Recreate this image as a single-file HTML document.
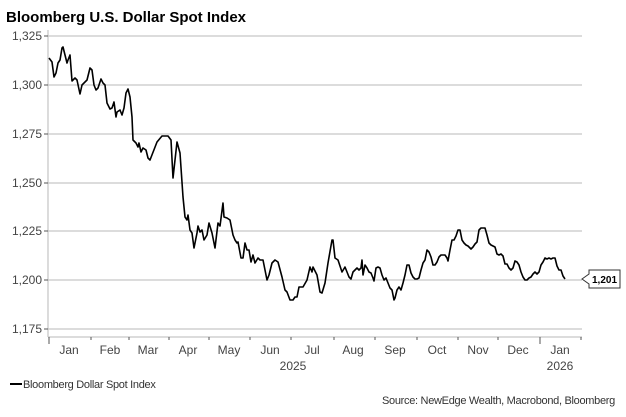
<!DOCTYPE html>
<html><head><style>
body{margin:0;background:#fff;}
svg{display:block;font-family:"Liberation Sans",Arial,sans-serif;}
</style></head><body>
<svg width="626" height="417" viewBox="0 0 626 417">
<text x="6" y="22" font-size="15" font-weight="bold" fill="#000">Bloomberg U.S. Dollar Spot Index</text>
<g stroke="#c8c8c8" stroke-width="1.3">
<line x1="48" y1="36" x2="582" y2="36"/>
<line x1="48" y1="85" x2="582" y2="85"/>
<line x1="48" y1="134" x2="582" y2="134"/>
<line x1="48" y1="183" x2="582" y2="183"/>
<line x1="48" y1="231" x2="582" y2="231"/>
<line x1="48" y1="280" x2="582" y2="280"/>
<line x1="48" y1="329" x2="582" y2="329"/>
<line x1="48" y1="337" x2="582" y2="337"/>
</g>
<line x1="48" y1="30" x2="48" y2="337" stroke="#c8c8c8" stroke-width="1.3"/>
<g stroke="#555" stroke-width="1">
<line x1="44" y1="36" x2="48" y2="36"/><line x1="44" y1="85" x2="48" y2="85"/><line x1="44" y1="134" x2="48" y2="134"/><line x1="44" y1="183" x2="48" y2="183"/><line x1="44" y1="231" x2="48" y2="231"/><line x1="44" y1="280" x2="48" y2="280"/><line x1="44" y1="329" x2="48" y2="329"/>
<line x1="49" y1="337" x2="49" y2="344"/>
<line x1="91" y1="337" x2="91" y2="340"/><line x1="129" y1="337" x2="129" y2="340"/><line x1="169" y1="337" x2="169" y2="340"/><line x1="209" y1="337" x2="209" y2="340"/><line x1="250" y1="337" x2="250" y2="340"/><line x1="291" y1="337" x2="291" y2="340"/><line x1="334" y1="337" x2="334" y2="340"/><line x1="375" y1="337" x2="375" y2="340"/><line x1="417" y1="337" x2="417" y2="340"/><line x1="458" y1="337" x2="458" y2="340"/><line x1="498" y1="337" x2="498" y2="340"/><line x1="540" y1="337" x2="540" y2="344"/><line x1="581" y1="337" x2="581" y2="340"/>
</g>
<g font-size="12" fill="#444" text-anchor="end">
<text x="42" y="40">1,325</text><text x="42" y="89">1,300</text><text x="42" y="138">1,275</text><text x="42" y="187">1,250</text><text x="42" y="235">1,225</text><text x="42" y="284">1,200</text><text x="42" y="333">1,175</text>
</g>
<g font-size="12" fill="#444" text-anchor="middle">
<text x="69" y="354">Jan</text><text x="110" y="354">Feb</text><text x="148" y="354">Mar</text><text x="188" y="354">Apr</text><text x="229" y="354">May</text><text x="270" y="354">Jun</text><text x="312" y="354">Jul</text><text x="353" y="354">Aug</text><text x="395" y="354">Sep</text><text x="437" y="354">Oct</text><text x="478" y="354">Nov</text><text x="518" y="354">Dec</text><text x="560" y="354">Jan</text>
<text x="293" y="370">2025</text><text x="560" y="370">2026</text>
</g>
<polyline fill="none" stroke="#000" stroke-width="1.6" stroke-linejoin="round" points="49,58 52,62 54,77 56,73 58,63 60,60 62,48 63,47 65,55 67,63 68,60 70,55 72,81 75,78 77,80 80,94 82,85 85,82 87,80 90,68 92,70 94,85 96,90 98,88 101,79 103,83 105,85 107,103 110,109 112,108 114,102 116,117 117,112 120,110 122,115 124,108 126,93 128,89 130,97 132,117 133,140 136,143 138,147 139,143 141,152 143,148 146,150 148,158 150,160 157,142 162,136 168,136 171,140 173,178 177,142 180,153 183,197 185,217 187,220 188,215 190,230 192,233 194,248 197,233 198,226 200,232 202,230 204,240 207,235 209,223 212,233 215,248 218,223 220,226 223,203 224,217 227,218 230,220 233,235 235,240 237,243 238,242 241,258 243,258 245,243 247,250 249,250 251,262 253,255 255,263 258,258 260,260 263,260 267,280 269,275 272,263 275,260 278,262 282,277 285,290 287,292 290,300 293,300 295,297 297,297 299,287 303,287 307,280 310,267 312,272 313,267 317,275 320,292 322,293 325,283 328,263 332,240 333,240 335,258 338,260 342,272 345,267 349,277 351,279 353,272 355,270 357,268 359,270 361,268 362,260 363,275 365,265 367,268 369,272 371,273 373,278 374,281 376,268 378,267 380,268 382,275 384,280 386,278 388,283 390,288 392,290 394,300 395,298 397,290 399,287 401,290 403,283 405,275 407,265 409,265 411,273 413,277 415,279 417,279 419,278 421,270 423,263 425,260 427,250 429,252 431,257 433,265 435,265 437,262 439,257 441,255 445,255 447,258 448,261 450,250 452,240 454,240 456,236 458,230 460,230 462,240 464,243 466,245 468,246 471,249 473,247 475,244 477,242 479,230 481,228 483,228 485,228 487,235 489,243 491,245 493,246 495,247 497,254 499,255 501,254 503,256 505,264 507,264 509,268 511,270 513,268 515,261 517,262 519,265 521,272 523,277 525,280 527,280 529,278 531,277 533,274 535,272 537,274 539,272 541,265 543,262 545,258 547,259 549,258 551,259 553,258 555,258 557,266 559,270 561,270 563,276 565,279"/>
<path d="M582,279 L589,274 L589,270 L620,270 L620,288 L589,288 L589,284 Z" fill="#fff" stroke="#333" stroke-width="1"/>
<text x="604.5" y="283" font-size="10" font-weight="bold" text-anchor="middle" fill="#000">1,201</text>
<line x1="10" y1="384" x2="22" y2="384" stroke="#000" stroke-width="2"/>
<text x="23" y="388" font-size="11" fill="#333" letter-spacing="-0.3">Bloomberg Dollar Spot Index</text>
<text x="615" y="404" font-size="11" fill="#333" text-anchor="end" letter-spacing="-0.3">Source: NewEdge Wealth, Macrobond, Bloomberg</text>
</svg>
</body></html>
